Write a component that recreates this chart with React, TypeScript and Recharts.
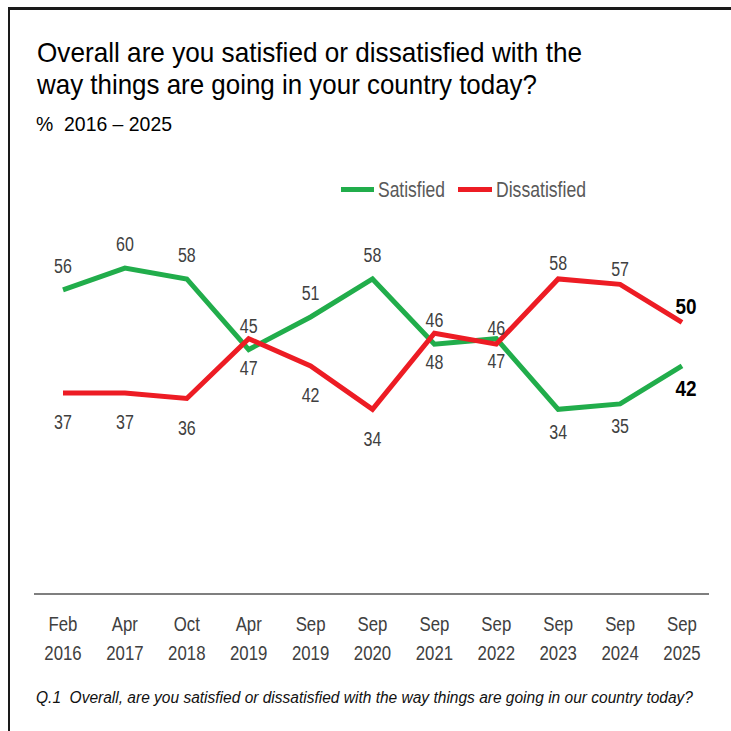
import { LineChart, Line, XAxis, YAxis, LabelList } from "recharts";

const months = ["Feb", "Apr", "Oct", "Apr", "Sep", "Sep", "Sep", "Sep", "Sep", "Sep", "Sep"];
const years = ["2016", "2017", "2018", "2019", "2019", "2020", "2021", "2022", "2023", "2024", "2025"];
const satisfied = [56, 60, 58, 45, 51, 58, 46, 47, 34, 35, 42];
const dissatisfied = [37, 37, 36, 47, 42, 34, 48, 46, 58, 57, 50];

// which points carry the Satisfied label above the line (Dissatisfied is the opposite)
const satisfiedOnTop = [true, true, true, true, true, true, true, false, false, false, false];

const data = months.map((m, i) => ({
  name: `${m} ${years[i]}`,
  satisfied: satisfied[i],
  dissatisfied: dissatisfied[i],
}));

const SANS = "'Liberation Sans', Arial, sans-serif";
const GREEN = "#21ad4b";
const RED = "#ed1c24";
const last = months.length - 1;

function makeLabel(series: "sat" | "dis") {
  return (props: any) => {
    const { x, y, value, index } = props;
    const top = series === "sat" ? satisfiedOnTop[index] : !satisfiedOnTop[index];
    let dy;
    if (series === "sat") dy = top ? -24 : 22;
    else dy = top ? -16 : 29;
    const isLast = index === last;
    return (
      <text
        transform={`translate(${x + (isLast ? 4 : 0)},${y + dy}) scale(${isLast ? 0.86 : 0.8},1)`}
        dy="0.36em"
        textAnchor="middle"
        fontFamily={SANS}
        fontSize={isLast ? 22 : 20}
        fontWeight={isLast ? 700 : 400}
        fill={isLast ? "#000" : "#404040"}
      >
        {value}
      </text>
    );
  };
}

function DateTick(props: any) {
  const { x, y, payload } = props;
  const [m, yr] = String(payload.value).split(" ");
  return (
    <g transform={`translate(${x},${y}) scale(0.8,1)`}>
      <text textAnchor="middle" fontFamily={SANS} fontSize={21} fill="#404040">
        <tspan x={0} y={37}>{m}</tspan>
        <tspan x={0} y={66}>{yr}</tspan>
      </text>
    </g>
  );
}

export default function App() {
  return (
    <div style={{ position: "absolute", left: 0, top: 0, width: 731, height: 731, background: "#fff", overflow: "hidden" }}>
      <svg width={731} height={731} style={{ position: "absolute", left: 0, top: 0 }}>
        {/* frame */}
        <rect x={8} y={7} width={723} height={3} fill="#1a1a1a" />
        <rect x={8} y={7} width={2} height={724} fill="#1a1a1a" />

        <text x={37} y={62} fontFamily={SANS} fontSize={28} fill="#000" textLength={545} lengthAdjust="spacingAndGlyphs">
          Overall are you satisfied or dissatisfied with the
        </text>
        <text x={37} y={94} fontFamily={SANS} fontSize={28} fill="#000" textLength={500} lengthAdjust="spacingAndGlyphs">
          way things are going in your country today?
        </text>
        <text x={36} y={131} fontFamily={SANS} fontSize={21} fill="#000" textLength={136} lengthAdjust="spacingAndGlyphs" xmlSpace="preserve">
          %  2016 – 2025
        </text>

        {/* legend */}
        <rect x={341} y={187} width={33} height={5} fill={GREEN} />
        <text x={378} y={197} fontFamily={SANS} fontSize={22} fill="#595959" textLength={67} lengthAdjust="spacingAndGlyphs">
          Satisfied
        </text>
        <rect x={458} y={187} width={34} height={5} fill={RED} />
        <text x={496} y={197} fontFamily={SANS} fontSize={22} fill="#595959" textLength={90} lengthAdjust="spacingAndGlyphs">
          Dissatisfied
        </text>

        <text x={36} y={703} fontFamily={SANS} fontStyle="italic" fontSize={16} fill="#111" textLength={657} lengthAdjust="spacingAndGlyphs" xmlSpace="preserve">
          Q.1  Overall, are you satisfied or dissatisfied with the way things are going in our country today?
        </text>
      </svg>

      <LineChart
        width={731}
        height={731}
        data={data}
        margin={{ top: 154, right: 22, bottom: 67, left: 34 }}
        style={{ position: "absolute", left: 0, top: 0 }}
      >
        <XAxis
          dataKey="name"
          height={70}
          interval={0}
          padding={{ left: 29, right: 27 }}
          axisLine={{ stroke: "#7f7f7f", strokeWidth: 2 }}
          tickLine={false}
          tickSize={0}
          tickMargin={0}
          tick={<DateTick />}
        />
        <YAxis
          domain={[0, 81]}
          width={0}
          tick={false}
          tickLine={false}
          axisLine={{ stroke: "#333", strokeWidth: 1 }}
        />
        <Line
          dataKey="satisfied"
          stroke={GREEN}
          strokeWidth={5}
          dot={false}
          activeDot={false}
          isAnimationActive={false}
        >
          <LabelList dataKey="satisfied" content={makeLabel("sat")} />
        </Line>
        <Line
          dataKey="dissatisfied"
          stroke={RED}
          strokeWidth={5}
          dot={false}
          activeDot={false}
          isAnimationActive={false}
        >
          <LabelList dataKey="dissatisfied" content={makeLabel("dis")} />
        </Line>
      </LineChart>
    </div>
  );
}
